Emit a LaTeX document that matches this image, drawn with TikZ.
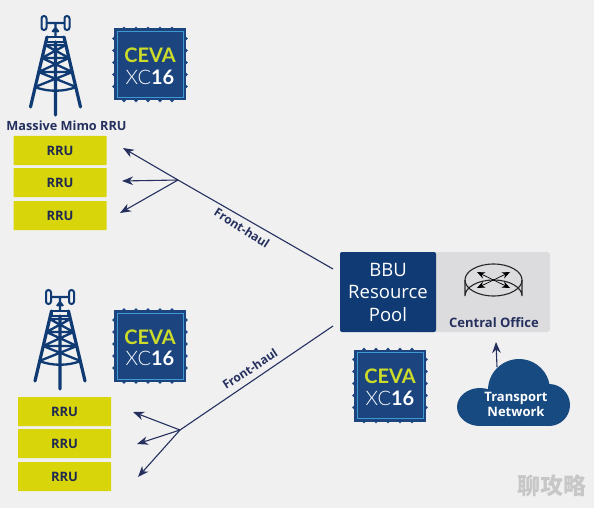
\documentclass[tikz,border=0pt]{standalone}
\usepackage{fontspec}
\setmainfont{Open Sans}
\newfontfamily\chipfont{Lato}
\newfontfamily\thinfont{Lato Light}
\newfontfamily\cjkfont{Noto Sans CJK SC}
\usetikzlibrary{arrows.meta}
\definecolor{pagegray}{HTML}{F0F0F0}
\definecolor{navy}{HTML}{0F3A73}
\definecolor{chipblue}{HTML}{1C4580}
\definecolor{chipline}{HTML}{3F9AD2}
\definecolor{cevagreen}{HTML}{CDDC29}
\definecolor{rruyellow}{HTML}{D8D60A}
\definecolor{inkblue}{HTML}{25305F}
\definecolor{officegray}{HTML}{DCDCDE}
\definecolor{cloudblue}{HTML}{174A80}
\newcommand{\fsize}[1]{\fontsize{#1}{#1}\selectfont}
\tikzset{
  rrubox/.style={fill=rruyellow, rounded corners=0.5pt, minimum width=93pt, minimum height=29pt, inner sep=0pt, text=inkblue!85!black, font=\fsize{13}\bfseries},
  haul/.style={text=inkblue, font=\fsize{12}\bfseries, inner sep=0pt},
  link/.style={draw=inkblue, line width=1.1pt},
  tower/.pic={
    % Antenna
    \draw[navy, line width=2pt, rounded corners=2.5pt] (-14,-21) rectangle (-9,-7);
    \draw[navy, line width=2pt, rounded corners=2.5pt] (9,-21) rectangle (14,-7);
    \draw[navy, line width=2.2pt] (-9,-14) -- (9,-14) (0,-14) -- (0,0) (-3,-5) -- (0,-9) -- (3,-5);
    % Legs and mast
    \draw[navy, line width=2.6pt, line join=round] (-8.5,0) rectangle (8.5,5);
    \draw[navy, line width=3.2pt, line cap=round] (-8.5,0) -- (-25,70) (8.5,0) -- (25,70) (0,5) -- (0,78);
    % Braces
    \draw[navy, line width=2.3pt] (-10.4,8) -- (10.4,8)
      (-10.4,8) -- (13.6,21) (10.4,8) -- (-13.6,21) (-13.6,21) -- (13.6,21)
      (-13.6,21) -- (17,35) (13.6,21) -- (-17,35) (-17,35) -- (17,35)
      (-17,35) -- (20.6,50) (17,35) -- (-20.6,50);
    \draw[navy, line width=2.3pt] (-20.6,50) .. controls (-8,55) and (8,55) .. (20.6,50);
  },
  chip/.pic={
    \fill[chipblue] (-36,-36) rectangle (36,36);
    % Pins on the edge
    \foreach \p in {-26,-14,-2,10,22} {
      \fill[chipblue] (\p,-36) circle (1.8pt) (\p,36) circle (1.8pt) (-36,\p) circle (1.8pt) (36,\p) circle (1.8pt);
    }
    \draw[chipline, line width=1pt] (-33,-33) rectangle (33,33);
    \node[text=cevagreen, font=\fsize{20}\chipfont\bfseries, inner sep=0pt] (-ceva) at (0,-9) {CEVA};
    \node[text=white, font=\fsize{20}\chipfont, inner sep=0pt] (-xc) at (0,12.5) {{\thinfont XC}\textbf{16}};
  }
}
\begin{document}
\begin{tikzpicture}[x=1pt, y=-1pt, >={Stealth[length=11pt,width=8.5pt,inset=3.5pt]}]
  \useasboundingbox (0,0) rectangle (594,508);
  \fill[pagegray] (0,0) rectangle (594,508);

  % Towers and chips
  \pic at (55.5,37) {tower};
  \pic at (60,311) {tower};
  \pic (chipA) at (150,64.5) {chip};
  \pic (chipB) at (150,346) {chip};
  \pic (chipC) at (390,385.5) {chip};
  \node[text=inkblue, font=\fsize{12.7}\bfseries, inner sep=0pt] (mimo) at (66.5,125.5) {Massive Mimo RRU};

  % RRU stacks
  \node[rrubox] (rruA) at (60,150.5) {RRU};
  \node[rrubox] (rruB) at (60,182.5) {RRU};
  \node[rrubox] (rruC) at (60,215.5) {RRU};
  \node[rrubox] (rruD) at (64.5,411.5) {RRU};
  \node[rrubox] (rruE) at (64.5,443.5) {RRU};
  \node[rrubox] (rruF) at (64.5,476.5) {RRU};

  % BBU and central office
  \node[fill=officegray, rounded corners=3pt, minimum width=130pt, minimum height=80pt, inner sep=0pt] (office) at (485,292) {};
  \node[fill=navy, rounded corners=2pt, minimum width=96pt, minimum height=80pt, inner sep=0pt, text=white, align=center, font=\fsize{18.5}] (bbu) at (388,292) {BBU\\[4pt]Resource\\[4pt]Pool};
  \node[text=inkblue, font=\fsize{13}\bfseries, inner sep=0pt] (officetext) at (494,323) {Central Office};

  % Router
  \draw[black!85, line width=1.1pt] (465,280) -- (465,296) arc[start angle=180, end angle=360, x radius=28.5, y radius=16] -- (522,280);
  \draw[black!85, line width=1.1pt] (493.5,280) ellipse (28.5 and 16);
  \draw[<->, black, line width=0.7pt, >={Stealth[length=8pt,width=6.5pt]}] (477,272) -- (510,288);
  \draw[<->, black, line width=0.7pt, >={Stealth[length=8pt,width=6.5pt]}] (510,272) -- (477,288);

  % Transport cloud
  \fill[cloudblue] (480,407) ellipse (23 and 19);
  \fill[cloudblue] (519,390) circle (31);
  \fill[cloudblue] (549,405) circle (21);
  \fill[cloudblue] (480,405) rectangle (549,426);
  \node[text=white, font=\fsize{13}\bfseries, align=center, inner sep=0pt] (cloudtext) at (516,404) {Transport\\[2pt]Network};

  % Upper front-haul
  \coordinate (hubA) at (178,180);
  \coordinate (bbuA) at (333,269);
  \coordinate (tipA) at (123,148);
  \coordinate (tipB) at (122,181);
  \coordinate (tipC) at (120,213);
  \draw[link] (bbuA) -- (hubA);
  \draw[link, ->] (hubA) -- (tipA);
  \draw[link, ->] (hubA) -- (tipB);
  \draw[link, ->] (hubA) -- (tipC);
  \node[haul, rotate=-33] (haulA) at (242,228) {Front-haul};

  % Lower front-haul
  \coordinate (hubB) at (180,430);
  \coordinate (bbuB) at (333,326);
  \coordinate (tipD) at (133,412);
  \coordinate (tipE) at (137,444);
  \coordinate (tipF) at (138,477);
  \draw[link] (bbuB) -- (hubB);
  \draw[link, ->] (hubB) -- (tipD);
  \draw[link, ->] (hubB) -- (tipE);
  \draw[link, ->] (hubB) -- (tipF);
  \node[haul, rotate=33] (haulB) at (250,369) {Front-haul};

  % Cloud to office
  \coordinate (cloudtop) at (497,367);
  \coordinate (officeport) at (496,342);
  \draw[link, ->] (cloudtop) -- (officeport);

  \node[text=black!22, font=\fsize{23}\cjkfont\bfseries, inner sep=0pt] (mark) at (552,486) {聊攻略};
\end{tikzpicture}
\end{document}
